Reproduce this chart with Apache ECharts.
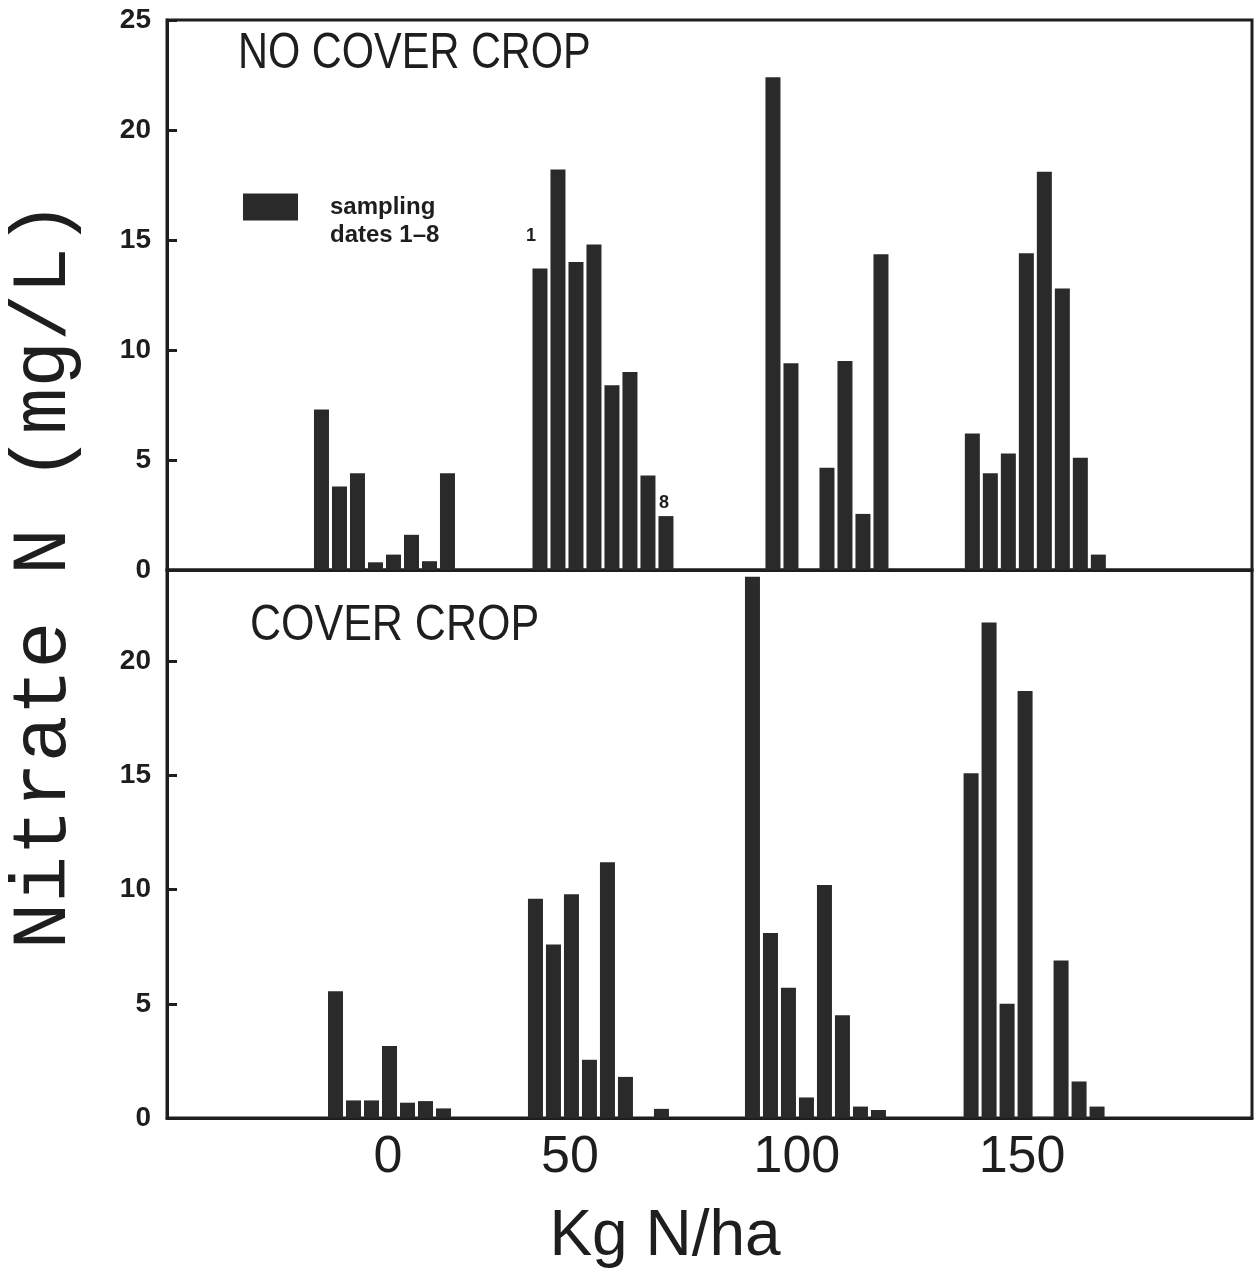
<!DOCTYPE html>
<html>
<head>
<meta charset="utf-8">
<script src="https://cdn.jsdelivr.net/npm/echarts@6/dist/echarts.min.js"></script>
<style>
html,body{margin:0;padding:0;background:#ffffff;}
#chart{width:1258px;height:1277px;}
</style>
</head>
<body>
<div id="chart"></div>
<script>
// ---------- data ----------
const nRates = [0, 50, 100, 150];          // kg N/ha
const samplingDates = [1, 2, 3, 4, 5, 6, 7, 8];
const xTickLabels = ['0', '50', '100', '150'];

// NO COVER CROP : nitrate N (mg/L) for sampling dates 1-8
const noCover0   = [7.3, 3.8, 4.4, 0.35, 0.7, 1.6, 0.4, 4.4];
const noCover50  = [13.7, 18.2, 14.0, 14.8, 8.4, 9.0, 4.3, 2.45];
const noCover100 = [0, 22.4, 9.4, 0, 4.65, 9.5, 2.55, 14.35];
const noCover150 = [6.2, 4.4, 5.3, 14.4, 18.1, 12.8, 5.1, 0.7];

// COVER CROP
const cover0   = [5.55, 0.77, 0.77, 3.15, 0.67, 0.74, 0.42, 0];
const cover50  = [9.6, 7.6, 9.8, 2.55, 11.2, 1.8, 0, 0.4];
const cover100 = [23.7, 8.1, 5.7, 0.9, 10.2, 4.5, 0.5, 0.35];
const cover150 = [15.1, 21.7, 5.0, 18.7, 0.05, 6.9, 1.6, 0.5];

// ---------- layout (not data) ----------
const DATE_STEP = 4.235;                        // spacing of the 8 bars inside a group (axis units)
const TOP_GROUP_START = [-13.65, -12.24, -11.65, -10.5];
const BOT_GROUP_START = [-10.35, -13.3, -12.24, -10.8];
const X_LABEL_POS = [2.0, 44.8, 98.2, 151.2];   // where the hand-drawn tick labels sit
const TOP_LABELLED = { group: 1, dates: [1, 8] };

const INK = '#1e1e1e';
const BAR = '#2a2a2a';

function build(groups, starts, labelled) {
  const out = [];
  groups.forEach((vals, g) => {
    vals.forEach((v, d) => {
      const item = { value: [nRates[g] + starts[g] + d * DATE_STEP, v] };
      if (labelled && labelled.group === g && labelled.dates.indexOf(samplingDates[d]) >= 0) {
        const first = samplingDates[d] === 1;
        item.label = {
          show: true, position: 'top',
          formatter: String(samplingDates[d]),
          fontFamily: 'Liberation Sans', fontWeight: 'bold', fontSize: 18, color: INK,
          offset: first ? [-9, -19] : [-2, 1]
        };
      }
      out.push(item);
    });
  });
  return out;
}

const topData = build([noCover0, noCover50, noCover100, noCover150], TOP_GROUP_START, TOP_LABELLED);
const botData = build([cover0, cover50, cover100, cover150], BOT_GROUP_START, null);

const SERIES_NAME = 'sampling\ndates 1\u20138';

const xCommon = {
  type: 'value', min: -50, max: 205.3,
  splitLine: { show: false },
  axisTick: { show: false },
  axisLine: { show: true, onZero: false, lineStyle: { color: INK, width: 3 } }
};
const yCommon = {
  type: 'value', min: 0,
  splitLine: { show: false },
  axisLine: { show: true, onZero: false, lineStyle: { color: INK, width: 3 } },
  axisTick: { show: true, inside: true, length: 10, lineStyle: { color: INK, width: 3 } },
  axisLabel: { fontFamily: 'Liberation Sans', fontWeight: 'bold', fontSize: 28, color: INK, margin: 16 }
};

const chart = echarts.init(document.getElementById('chart'), null, { renderer: 'canvas' });
chart.setOption({
  backgroundColor: '#ffffff',
  animation: false,
  legend: {
    data: [SERIES_NAME],
    left: 243, top: 165, padding: 0,
    itemWidth: 55, itemHeight: 27,
    icon: 'rect',
    selectedMode: false,
    itemStyle: { color: BAR },
    formatter: function (name) { return ' \n' + name; },
    textStyle: { fontFamily: 'Liberation Sans', fontWeight: 'bold', fontSize: 24, lineHeight: 28, color: INK, padding: [0, 0, 0, 27] }
  },
  grid: [
    { left: 167, right: 6, top: 20, height: 550, show: true, borderColor: INK, borderWidth: 3, backgroundColor: 'transparent' },
    { left: 167, right: 6, top: 570, height: 548, show: true, borderColor: INK, borderWidth: 3, backgroundColor: 'transparent' }
  ],
  xAxis: [
    Object.assign({}, xCommon, { gridIndex: 0, axisLabel: { show: false } }),
    Object.assign({}, xCommon, {
      gridIndex: 1,
      axisLabel: {
        show: true, customValues: X_LABEL_POS,
        formatter: function (v) { return xTickLabels[X_LABEL_POS.indexOf(v)]; },
        fontFamily: 'Liberation Sans', fontSize: 52, color: INK, margin: 14
      }
    })
  ],
  yAxis: [
    Object.assign({}, yCommon, { gridIndex: 0, max: 25, interval: 5 }),
    Object.assign({}, yCommon, {
      gridIndex: 1, max: 24, interval: 5,
      axisTick: Object.assign({}, yCommon.axisTick, { customValues: [0, 5, 10, 15, 20] }),
      axisLabel: Object.assign({}, yCommon.axisLabel, { customValues: [0, 5, 10, 15, 20] })
    })
  ],
  series: [
    { name: SERIES_NAME, type: 'bar', xAxisIndex: 0, yAxisIndex: 0, barWidth: 15,
      itemStyle: { color: BAR }, data: topData },
    { name: SERIES_NAME, type: 'bar', xAxisIndex: 1, yAxisIndex: 1, barWidth: 15,
      itemStyle: { color: BAR }, data: botData }
  ],
  graphic: [
    { type: 'text', x: 238, y: 29, scaleX: 0.83,
      style: { text: 'NO COVER CROP', font: 'normal 50px "Liberation Sans"', fill: INK, align: 'left', verticalAlign: 'top' } },
    { type: 'text', x: 250, y: 601, scaleX: 0.86,
      style: { text: 'COVER CROP', font: 'normal 50px "Liberation Sans"', fill: INK, align: 'left', verticalAlign: 'top' } },
    { type: 'text', x: 44, y: 575, rotation: Math.PI / 2,
      style: { text: 'Nitrate N (mg/L)', font: 'normal 78px "Liberation Mono"', fill: INK, align: 'center', verticalAlign: 'middle' } },
    { type: 'text', x: 665, y: 1237,
      style: { text: 'Kg N/ha', font: 'normal 64px "Liberation Sans"', fill: INK, align: 'center', verticalAlign: 'middle' } }
  ]
});
</script>
</body>
</html>
